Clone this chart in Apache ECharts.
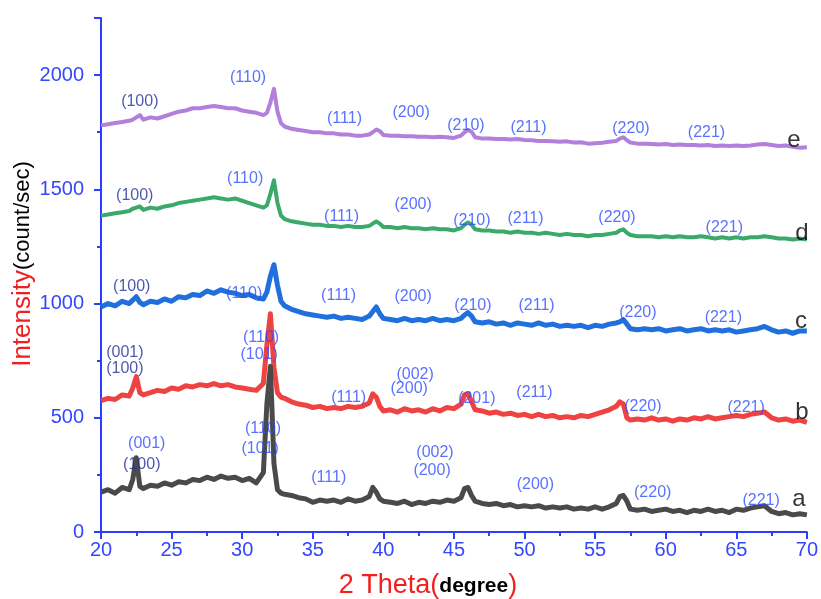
<!DOCTYPE html>
<html>
<head>
<meta charset="utf-8">
<script src="https://cdn.jsdelivr.net/npm/echarts@6/dist/echarts.min.js"></script>
<style>html,body{margin:0;padding:0;background:#fff}#c{width:821px;height:599px}</style>
</head>
<body>
<div id="c"></div>
<script>
// 2 theta grid (degree)
const theta = [20,20.5,21,21.5,22,22.25,22.5,22.75,23,23.5,24,24.5,25,25.5,26,26.5,27,27.5,28,28.5,29,29.5,30,30.5,31,31.5,31.75,32,32.25,32.5,32.75,33,33.5,34,34.5,35,35.5,36,36.5,37,37.5,38,38.5,39,39.25,39.5,39.75,40,40.5,41,41.5,42,42.5,43,43.5,44,44.5,45,45.5,45.75,46,46.25,46.5,47,47.5,48,48.5,49,49.5,50,50.5,51,51.5,52,52.5,53,53.5,54,54.5,55,55.5,56,56.5,56.75,57,57.25,57.5,58,58.5,59,59.5,60,60.5,61,61.5,62,62.5,63,63.5,64,64.5,65,65.5,66,66.5,67,67.5,68,68.5,69,69.5,70];

const seriesA = [175,185,170,195,185,230,325,200,190,205,200,215,205,220,215,230,225,240,230,245,235,240,225,235,215,260,560,725,300,185,170,165,160,150,145,130,140,135,140,130,145,135,140,155,195,175,145,135,130,125,135,120,130,125,135,130,140,135,150,190,195,160,135,125,120,125,115,120,110,115,110,115,105,110,105,110,100,105,100,110,100,110,125,155,160,135,100,95,100,90,95,100,90,95,85,95,90,100,90,95,85,100,95,105,110,115,90,80,85,75,80,75];

const seriesB = [575,585,580,600,595,630,680,610,600,610,620,615,630,625,640,635,645,640,650,640,645,635,630,625,620,650,820,955,720,610,590,585,570,560,555,545,550,540,545,540,550,545,550,565,605,590,550,530,535,525,540,530,535,525,540,530,545,540,560,600,605,570,535,530,520,525,515,520,510,515,505,515,505,510,500,505,500,510,505,515,525,535,550,570,560,500,490,495,490,500,490,495,485,495,490,500,495,505,495,500,505,510,505,515,520,525,500,490,495,485,490,480];

const seriesC = [985,1000,990,1010,1000,1015,1030,1005,995,1010,1005,1020,1010,1030,1025,1040,1035,1055,1045,1060,1050,1045,1035,1040,1025,1020,1050,1120,1170,1080,1010,990,975,965,955,950,945,940,945,935,940,935,930,945,965,985,955,935,930,925,935,925,930,925,935,925,930,925,935,950,960,945,920,915,920,910,915,905,915,910,905,915,905,910,900,905,900,905,895,905,900,910,915,920,930,910,890,885,890,885,890,880,885,890,880,885,890,880,885,880,885,875,880,885,890,900,885,875,880,870,880,880];

const seriesD = [1385,1390,1395,1400,1405,1415,1420,1425,1410,1420,1415,1425,1430,1440,1445,1450,1455,1460,1465,1460,1455,1460,1450,1440,1430,1420,1430,1480,1540,1440,1385,1370,1360,1355,1350,1345,1345,1340,1340,1335,1340,1335,1335,1340,1350,1360,1350,1335,1335,1330,1335,1330,1330,1325,1330,1325,1325,1320,1330,1345,1355,1345,1325,1320,1320,1315,1315,1310,1315,1310,1310,1305,1310,1305,1300,1305,1300,1300,1295,1300,1300,1305,1310,1320,1325,1310,1300,1295,1295,1295,1290,1295,1290,1295,1290,1290,1295,1290,1285,1290,1285,1290,1285,1290,1290,1295,1290,1285,1285,1280,1285,1280];

const seriesE = [1780,1785,1790,1795,1800,1805,1815,1825,1805,1815,1810,1820,1830,1840,1845,1855,1855,1860,1865,1860,1855,1855,1845,1840,1835,1825,1835,1880,1940,1840,1790,1775,1765,1760,1755,1750,1750,1745,1745,1740,1740,1735,1735,1740,1750,1762,1755,1738,1735,1735,1732,1732,1730,1730,1728,1730,1728,1725,1735,1750,1760,1752,1728,1722,1722,1720,1720,1718,1720,1716,1715,1712,1712,1710,1708,1710,1705,1706,1700,1702,1704,1708,1712,1722,1728,1715,1705,1700,1700,1698,1696,1698,1694,1696,1694,1694,1692,1694,1690,1692,1690,1692,1690,1692,1696,1698,1694,1690,1692,1686,1682,1684];

const xTicks = [20,25,30,35,40,45,50,55,60,65,70];
const yTicks = [0,500,1000,1500,2000];

// peak annotations: [2theta, intensity, label]
const peakLabels = [
  [22.75,1882,'(100)'],[30.42,1991,'(110)'],[37.25,1811,'(111)'],[41.97,1838,'(200)'],[45.85,1781,'(210)'],[50.28,1772,'(211)'],[57.54,1768,'(220)'],[62.89,1750,'(221)'],
  [22.39,1474,'(100)'],[30.21,1548,'(110)'],[37.04,1382,'(111)'],[42.11,1434,'(200)'],[46.27,1364,'(210)'],[50.07,1373,'(211)'],[56.55,1377,'(220)'],[64.15,1333,'(221)'],
  [22.18,1075,'(100)'],[30.14,1044,'(110)'],[36.83,1035,'(111)'],[42.11,1031,'(200)'],[46.34,991,'(210)'],[50.85,991,'(211)'],[58.03,961,'(220)'],[64.08,939,'(221)'],
  [21.69,785,'(001)'],[21.69,715,'(100)'],[31.34,851,'(110)'],[31.20,776,'(101)'],[37.54,588,'(111)'],[42.25,689,'(002)'],[41.83,627,'(200)'],[46.62,583,'(201)'],[50.70,610,'(211)'],[58.38,548,'(220)'],[65.70,544,'(221)'],
  [23.24,386,'(001)'],[22.89,294,'(100)'],[31.48,452,'(110)'],[31.27,364,'(101)'],[36.13,237,'(111)'],[43.66,346,'(002)'],[43.45,268,'(200)'],[50.77,206,'(200)'],[59.08,171,'(220)'],[66.76,136,'(221)']
];
// curve letters: [2theta, intensity, letter]
const curveLetters = [[69.08,1715,'e'],[69.65,1307,'d'],[69.58,921,'c'],[69.65,522,'b'],[69.44,145,'a']];

const names = ['e','d','c','b','a'];
const values = [seriesE, seriesD, seriesC, seriesB, seriesA];
const colors = ['#b27fda','#3aa96a','#1f6fdc','#ef4343','#4a4a4a'];
const widths = [4,4,5,5,5];

const axisBlue = '#2b3dff';
const chart = echarts.init(document.getElementById('c'));
const lineSeries = names.map((n,i)=>({
  name:n, type:'line', showSymbol:false, symbol:'none',
  data: theta.map((t,k)=>[t, values[i][k]]),
  lineStyle:{color:colors[i], width:widths[i], join:'round'},
  itemStyle:{color:colors[i]}, z:2+i
}));
chart.setOption({
  animation:false,
  backgroundColor:'#fff',
  grid:{left:101, right:10, top:18, bottom:67, containLabel:false},
  xAxis:{
    type:'value', min:20, max:70, interval:5,
    axisLine:{show:true, onZero:false, lineStyle:{color:axisBlue, width:2}},
    axisTick:{show:true, inside:false, length:7, lineStyle:{color:axisBlue, width:2}},
    minorTick:{show:true, splitNumber:2, length:4, lineStyle:{color:axisBlue, width:2}},
    axisLabel:{color:'#3347ff', fontSize:20, fontFamily:'Liberation Sans', margin:8,
      formatter:v=> xTicks.includes(v)? String(v):''},
    splitLine:{show:false}
  },
  yAxis:{
    type:'value', min:0, max:2250, interval:500,
    axisLine:{show:true, onZero:false, lineStyle:{color:axisBlue, width:2}},
    axisTick:{show:true, inside:false, length:7, lineStyle:{color:axisBlue, width:2}},
    minorTick:{show:true, splitNumber:2, length:4, lineStyle:{color:axisBlue, width:2}},
    axisLabel:{color:'#3347ff', fontSize:20, fontFamily:'Liberation Sans', margin:17, showMaxLabel:false,
      formatter:v=> yTicks.includes(v)? String(v):''},
    splitLine:{show:false}
  },
  graphic:[
    {type:'text', x:23, y:264, rotation:Math.PI/2, z:30,
     style:{text:'{r|Intensity}{k|(count/sec)}', align:'center', verticalAlign:'middle',
       rich:{r:{fill:'#f02020', fontSize:26, fontFamily:'Liberation Sans'},
             k:{fill:'#000', fontSize:22, fontFamily:'Liberation Sans'}}}},
    {type:'text', x:428, y:586, z:30,
     style:{text:'{r|2 Theta(}{k|degree}{r|)}', align:'center', verticalAlign:'middle',
       rich:{r:{fill:'#f02020', fontSize:27, fontFamily:'Liberation Sans'},
             k:{fill:'#000', fontSize:21, fontWeight:'bold', fontFamily:'Liberation Sans'}}}}
  ],
  series: lineSeries.concat([
    {type:'scatter', symbolSize:0, silent:true, z:20,
     data: peakLabels.map(p=>({value:[p[0],p[1]], name:p[2],
       label:{color: p[0] < 23 ? '#1f2f9a' : '#2f4dff'}})),
     label:{show:true, position:'inside', formatter:'{b}', fontSize:16, fontFamily:'Liberation Sans'}},
    {type:'scatter', symbolSize:0, silent:true, z:20,
     data: curveLetters.map(p=>({value:[p[0],p[1]], name:p[2]})),
     label:{show:true, position:'inside', formatter:'{b}', color:'#000', fontSize:24, fontFamily:'Liberation Sans'}}
  ])
});
</script>
</body>
</html>
